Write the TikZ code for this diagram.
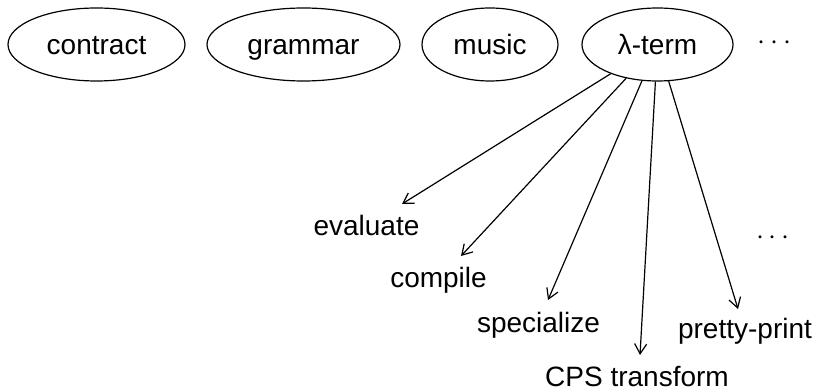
\documentclass[tikz,border=0pt]{standalone}
\usepackage{fontspec}
\setmainfont{Liberation Sans}
\usetikzlibrary{shapes.geometric,arrows.meta}
\begin{document}
\begin{tikzpicture}[x=0.5pt,y=-0.5pt,
  oval/.style={ellipse,draw,line width=0.6pt,inner sep=0pt,minimum height=36.5pt,
    text height=10pt,text depth=0pt,font=\fontsize{14}{16}\selectfont},
  lbl/.style={inner sep=0pt,anchor=base,font=\fontsize{14}{16}\selectfont},
  arr/.style={line width=0.6pt,-{Straight Barb[length=5pt,width=6pt]}}]
\useasboundingbox (0,0) rectangle (817,389);
\node[oval,minimum width=88.5pt] (contract) at (96.5,44.5) {contract};
\node[oval,minimum width=96.5pt] (grammar) at (303.5,44.5) {grammar};
\node[oval,minimum width=68pt] (music) at (490,44.5) {music};
\node[oval,minimum width=75.5pt] (lam) at (657.5,44.5) {λ-term};
\node[lbl] (dotsA) at (774.5,50) {$\cdots$};
\node[lbl] (evaluate) at (366.5,236) {evaluate};
\node[lbl] (compile) at (438.5,287) {compile};
\node[lbl] (specialize) at (538.5,332) {specialize};
\node[lbl] (cps) at (637,386) {CPS transform};
\node[lbl] (pretty) at (745,338) {pretty-print};
\node[lbl] (dotsB) at (773,245) {$\cdots$};
\coordinate (t1) at (402,204);
\coordinate (t2) at (461,256);
\coordinate (t3) at (548,300);
\coordinate (t4) at (640,355);
\coordinate (t5) at (738,309);
\draw[arr] (lam) -- (t1);
\draw[arr] (lam) -- (t2);
\draw[arr] (lam) -- (t3);
\draw[arr] (lam) -- (t4);
\draw[arr] (lam) -- (t5);
\end{tikzpicture}
\end{document}
